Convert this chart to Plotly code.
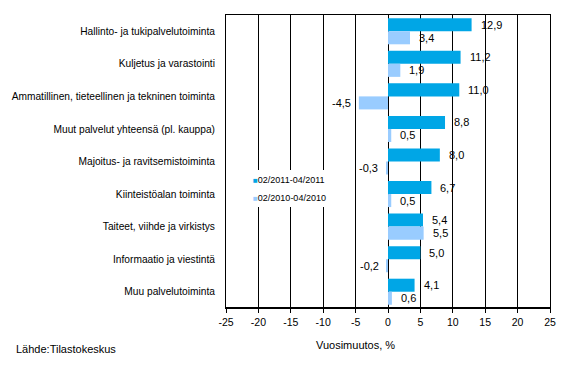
import plotly.graph_objects as go

categories = [
    "Hallinto- ja tukipalvelutoiminta",
    "Kuljetus ja varastointi",
    "Ammatillinen, tieteellinen ja tekninen toiminta",
    "Muut palvelut yhteensä (pl. kauppa)",
    "Majoitus- ja ravitsemistoiminta",
    "Kiinteistöalan toiminta",
    "Taiteet, viihde ja virkistys",
    "Informaatio ja viestintä",
    "Muu palvelutoiminta",
]
series_names = ["02/2011-04/2011", "02/2010-04/2010"]
values_2011 = [12.9, 11.2, 11.0, 8.8, 8.0, 6.7, 5.4, 5.0, 4.1]
values_2010 = [3.4, 1.9, -4.5, 0.5, -0.3, 0.5, 5.5, -0.2, 0.6]
tick_vals = [-25, -20, -15, -10, -5, 0, 5, 10, 15, 20, 25]
tick_text = ["-25", "-20", "-15", "-10", "-5", "0", "5", "10", "15", "20", "25"]
axis_title = "Vuosimuutos, %"
source_text = "Lähde:Tilastokeskus"

colors = ["#00A6E6", "#99CCFF"]
FONT = "Liberation Sans, Arial, sans-serif"
BARGAP = 0.2

fig = go.Figure()
series = [values_2011, values_2010]
for name, vals, col in zip(series_names, series, colors):
    fig.add_trace(go.Bar(
        y=categories, x=vals, name=name, orientation="h",
        marker=dict(color=col, line=dict(width=0)),
        showlegend=False, hoverinfo="x+y",
    ))

# data labels
half = (1 - BARGAP) / 4
annotations = []
for k, vals in enumerate(series):
    off = -half if k == 0 else half
    for i, v in enumerate(vals):
        txt = f"{v:.1f}".replace(".", ",")
        annotations.append(dict(
            x=v, y=i + off, xref="x", yref="y", text=txt, showarrow=False,
            xanchor="left" if v >= 0 else "right", yanchor="middle",
            xshift=7 if v >= 0 else -6,
            font=dict(family=FONT, size=11, color="black"),
        ))

# legend (inside plot)
legend_y = [0.437, 0.375]
for name, col, ly in zip(series_names, colors, legend_y):
    annotations.append(dict(
        x=0.078, y=ly, xref="paper", yref="paper", showarrow=False,
        xanchor="left", yanchor="middle",
        text=f"<span style='color:{col};font-size:8px'>■</span>{name}",
        font=dict(family=FONT, size=9, color="black"),
    ))

annotations.append(dict(
    x=0.399, y=-0.126, xref="paper", yref="paper", showarrow=False,
    xanchor="center", yanchor="middle", text=axis_title,
    font=dict(family=FONT, size=11, color="black"),
))
annotations.append(dict(
    x=-0.655, y=-0.14, xref="paper", yref="paper", showarrow=False,
    xanchor="left", yanchor="middle", text=source_text,
    font=dict(family=FONT, size=11, color="black"),
))

shapes = [
    dict(type="rect", xref="paper", yref="paper", x0=0.02, x1=0.335,
         y0=0.345, y1=0.471, fillcolor="white", line=dict(width=0), layer="above"),
    dict(type="line", xref="paper", yref="paper", x0=0, x1=1, y0=0, y1=0,
         line=dict(color="black", width=2), layer="above"),
]

fig.update_layout(
    width=568, height=373,
    margin=dict(l=219, r=16, t=15, b=65),
    paper_bgcolor="white", plot_bgcolor="white",
    barmode="group", bargap=BARGAP, bargroupgap=0,
    font=dict(family=FONT, size=10, color="black"),
    annotations=annotations, shapes=shapes,
    showlegend=False,
)
fig.update_xaxes(
    range=[-25, 25], tickvals=tick_vals, ticktext=tick_text,
    showgrid=True, gridcolor="black", gridwidth=1,
    zeroline=True, zerolinecolor="black", zerolinewidth=1,
    showline=True, linecolor="black", linewidth=1, mirror=True,
    ticks="outside", ticklen=4, tickcolor="black",
    tickfont=dict(family=FONT, size=10.5, color="black"),
    fixedrange=True,
)
fig.update_yaxes(
    type="category", categoryorder="array", categoryarray=categories,
    autorange="reversed", showgrid=False, zeroline=False,
    showline=True, linecolor="black", linewidth=1, mirror=True,
    ticks="", ticklabelstandoff=8,
    tickfont=dict(family=FONT, size=10.2, color="black"),
    fixedrange=True,
)

fig.write_html(
    "out.html",
    config={"displayModeBar": False},
    post_script="document.body.style.margin='0px';document.body.style.overflow='hidden';",
)
